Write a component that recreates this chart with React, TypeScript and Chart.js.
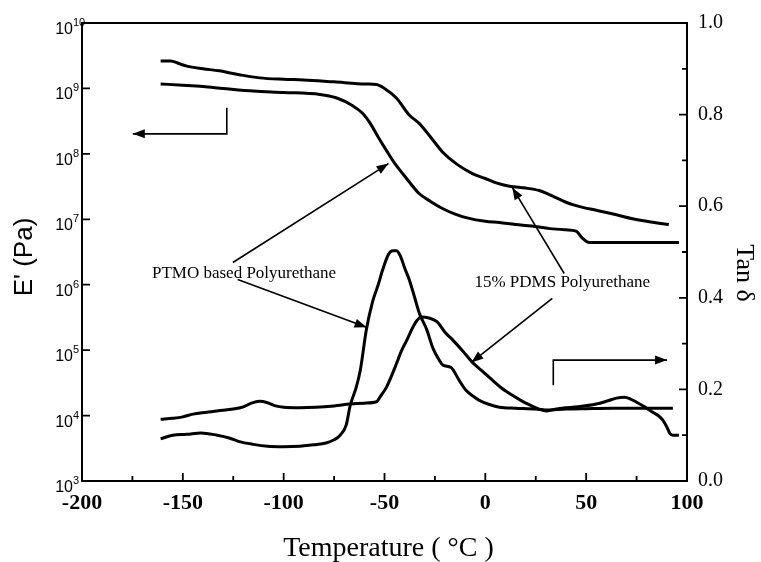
import React, { useEffect, useRef } from 'react';
import { Chart, registerables } from 'chart.js';

Chart.register(...registerables);

// ---- Data ----
// PTMO based polyurethane, storage modulus E' (Pa)
const ptmoE_T = [-161, -150, -140, -130, -115, -100, -82, -74, -66, -61, -57, -53, -49, -45, -41, -37, -33, -27, -21, -15, -9, 0, 7, 15, 23, 32, 40, 45, 48, 51.5, 60, 75, 96];
const ptmoE_V = [1.17e9, 1.12e9, 1.07e9, 1.0e9, 9.1e8, 8.7e8, 8.1e8, 7.2e8, 5.5e8, 4.2e8, 2.9e8, 1.78e8, 1.12e8, 7.2e7, 5.0e7, 3.5e7, 2.5e7, 1.86e7, 1.45e7, 1.2e7, 1.05e7, 9.3e6, 8.9e6, 8.3e6, 7.9e6, 7.2e6, 6.9e6, 6.6e6, 5.2e6, 4.4e6, 4.4e6, 4.4e6, 4.4e6];

// 15% PDMS polyurethane, storage modulus E' (Pa)
const pdmsE_T = [-161, -156, -152, -148, -140, -132, -122, -112, -100, -90, -75, -59, -54, -50, -44, -38, -32.7, -27, -21, -14, -6.4, 0, 5.4, 12, 20, 26.7, 31, 35, 40, 45, 56, 65, 73, 82, 91];
const pdmsE_V = [2.63e9, 2.63e9, 2.4e9, 2.19e9, 2.0e9, 1.86e9, 1.62e9, 1.45e9, 1.38e9, 1.35e9, 1.26e9, 1.17e9, 1.15e9, 1.0e9, 7.1e8, 4.0e8, 2.9e8, 1.78e8, 1.05e8, 6.9e7, 5.0e7, 4.2e7, 3.6e7, 3.2e7, 3.0e7, 2.75e7, 2.45e7, 2.14e7, 1.82e7, 1.62e7, 1.35e7, 1.17e7, 1.02e7, 9.1e6, 8.3e6];

// PTMO based polyurethane, tan delta
const ptmoTan_T = [-161, -155, -148, -141, -133, -127, -122, -115, -108, -100, -92, -85, -79, -75, -72, -69, -67, -64, -62, -59, -56, -53, -51, -48, -46, -44, -42, -40, -37.6, -35, -32.7, -29, -26, -23, -21, -17, -13, -9.6, -6, -3, 2, 7, 15, 25, 30, 40, 50, 63, 80, 93];
const ptmoTan_V = [0.092, 0.1, 0.102, 0.105, 0.1, 0.094, 0.086, 0.08, 0.076, 0.075, 0.076, 0.079, 0.083, 0.09, 0.1, 0.122, 0.165, 0.205, 0.242, 0.33, 0.39, 0.43, 0.46, 0.495, 0.503, 0.503, 0.49, 0.465, 0.438, 0.4, 0.366, 0.33, 0.29, 0.265, 0.253, 0.248, 0.22, 0.198, 0.185, 0.176, 0.167, 0.161, 0.159, 0.157, 0.155, 0.157, 0.158, 0.159, 0.159, 0.159];

// 15% PDMS polyurethane, tan delta
const pdmsTan_T = [-161, -155, -150, -145, -138, -133, -125, -120, -116, -112, -108, -104, -100, -92, -84, -75, -67, -60, -54, -52, -49, -46, -44, -41.5, -39, -36, -34, -31.7, -28, -24, -20, -16, -11, -6.4, -1.5, 3.5, 8, 13.4, 18, 22, 26, 30, 34, 38, 46, 55, 60, 65, 69, 72, 75, 79, 83, 86, 88, 90, 91.5, 93, 96];
const pdmsTan_V = [0.135, 0.137, 0.14, 0.146, 0.15, 0.153, 0.157, 0.162, 0.17, 0.174, 0.171, 0.164, 0.161, 0.16, 0.161, 0.164, 0.168, 0.17, 0.173, 0.185, 0.205, 0.235, 0.257, 0.285, 0.307, 0.335, 0.35, 0.358, 0.356, 0.348, 0.325, 0.307, 0.283, 0.259, 0.24, 0.22, 0.203, 0.187, 0.175, 0.166, 0.158, 0.153, 0.156, 0.159, 0.162, 0.168, 0.174, 0.181, 0.183, 0.179, 0.172, 0.162, 0.15, 0.142, 0.133, 0.118, 0.104, 0.1, 0.1];

// Axis ticks
const xMajorTicks = [-200, -150, -100, -50, 0, 50, 100];
const xMinorTicks = [-175, -125, -75, -25, 25, 75];
const eDecades = [1e3, 1e4, 1e5, 1e6, 1e7, 1e8, 1e9, 1e10];
const tanMajorTicks = [0, 0.2, 0.4, 0.6, 0.8, 1.0];
const tanMinorTicks = [0.1, 0.3, 0.5, 0.7, 0.9];

// Annotation texts (anchored in T / tan delta units)
const labelTexts = ['PTMO based Polyurethane', '15% PDMS Polyurethane'];
const labelT = [-165.3, -5.4];
const labelTan = [0.453, 0.4335];

// Straight annotation arrows [fromT, fromTan, toT, toTan]
const pointerArrows = [
  [-125.2, 0.477, -48, 0.693],
  [-122.8, 0.44, -58.9, 0.3355],
  [39.1, 0.453, 13.4, 0.6405],
  [33.2, 0.399, -6.9, 0.259],
];
// Elbow arrows pointing to axes: [T1, tan1, Tcorner, tanCorner, Ttip, tanTip]
const axisArrows = [
  [-128.2, 0.815, -128.2, 0.758, -174.8, 0.758],
  [33.7, 0.209, 33.7, 0.264, 90.1, 0.264],
];

const SERIF = '"Liberation Serif", "Times New Roman", serif';
const SANS = '"Liberation Sans", Arial, sans-serif';

function pts(T: number[], V: number[]) {
  return T.map((t, i) => ({ x: t, y: V[i] }));
}

function drawArrowHead(ctx: CanvasRenderingContext2D, x1: number, y1: number, x2: number, y2: number) {
  const ang = Math.atan2(y2 - y1, x2 - x1);
  const len = 12;
  const hw = 4.5;
  ctx.beginPath();
  ctx.moveTo(x2, y2);
  ctx.lineTo(x2 - len * Math.cos(ang) + hw * Math.sin(ang), y2 - len * Math.sin(ang) - hw * Math.cos(ang));
  ctx.lineTo(x2 - len * Math.cos(ang) - hw * Math.sin(ang), y2 - len * Math.sin(ang) + hw * Math.cos(ang));
  ctx.closePath();
  ctx.fill();
}

const decorPlugin = {
  id: 'decor',
  afterDraw(chart: any) {
    const { ctx, chartArea } = chart;
    const { left, right, top, bottom } = chartArea;
    const x = chart.scales.x;
    const yE = chart.scales.yE;
    const yT = chart.scales.yT;
    ctx.save();
    ctx.strokeStyle = '#000';
    ctx.fillStyle = '#000';
    // frame
    ctx.lineWidth = 2;
    ctx.beginPath();
    ctx.moveTo(left, top);
    ctx.lineTo(right, top);
    ctx.lineTo(right, bottom);
    ctx.lineTo(left, bottom);
    ctx.closePath();
    ctx.stroke();
    // inward ticks
    ctx.lineWidth = 1.8;
    ctx.beginPath();
    xMajorTicks.forEach((v) => {
      const p = x.getPixelForValue(v);
      ctx.moveTo(p, bottom);
      ctx.lineTo(p, bottom - 8);
    });
    xMinorTicks.forEach((v) => {
      const p = x.getPixelForValue(v);
      ctx.moveTo(p, bottom);
      ctx.lineTo(p, bottom - 5);
    });
    eDecades.forEach((v) => {
      const p = yE.getPixelForValue(v);
      ctx.moveTo(left, p);
      ctx.lineTo(left + 8, p);
    });
    tanMajorTicks.forEach((v) => {
      const p = yT.getPixelForValue(v);
      ctx.moveTo(right, p);
      ctx.lineTo(right - 8, p);
    });
    tanMinorTicks.forEach((v) => {
      const p = yT.getPixelForValue(v);
      ctx.moveTo(right, p);
      ctx.lineTo(right - 5, p);
    });
    ctx.stroke();

    // left log labels: 10 with superscript exponent
    eDecades.forEach((v) => {
      const p = yE.getPixelForValue(v);
      const exp = Math.round(Math.log10(v));
      ctx.font = '16px ' + SANS;
      ctx.textAlign = 'right';
      ctx.textBaseline = 'alphabetic';
      ctx.fillText('10', left - 9, p + 11);
      ctx.font = '11px ' + SANS;
      ctx.textAlign = 'left';
      ctx.fillText(String(exp), left - 9, p + 3);
    });

    // axis titles
    const cy = (top + bottom) / 2;
    ctx.textAlign = 'center';
    ctx.textBaseline = 'middle';
    ctx.font = '26px ' + SANS;
    ctx.save();
    ctx.translate(25, cy + 5);
    ctx.rotate(-Math.PI / 2);
    ctx.fillText("E' (Pa)", 0, 0);
    ctx.restore();

    ctx.font = '26px ' + SERIF;
    ctx.save();
    ctx.translate(right + 57, cy + 21);
    ctx.rotate(Math.PI / 2);
    ctx.fillText('Tan \u03b4', 0, 0);
    ctx.restore();

    ctx.font = '28px ' + SERIF;
    ctx.fillText('Temperature ( \u00b0C )', (left + right) / 2 + 4, bottom + 68);

    // annotation labels
    ctx.font = '17px ' + SERIF;
    ctx.textAlign = 'left';
    ctx.textBaseline = 'middle';
    labelTexts.forEach((t, i) => {
      ctx.fillText(t, x.getPixelForValue(labelT[i]), yT.getPixelForValue(labelTan[i]));
    });

    // pointer arrows
    ctx.lineWidth = 1.6;
    pointerArrows.forEach((a) => {
      const x1 = x.getPixelForValue(a[0]);
      const y1 = yT.getPixelForValue(a[1]);
      const x2 = x.getPixelForValue(a[2]);
      const y2 = yT.getPixelForValue(a[3]);
      ctx.beginPath();
      ctx.moveTo(x1, y1);
      ctx.lineTo(x2, y2);
      ctx.stroke();
      drawArrowHead(ctx, x1, y1, x2, y2);
    });
    axisArrows.forEach((a) => {
      const x1 = x.getPixelForValue(a[0]);
      const y1 = yT.getPixelForValue(a[1]);
      const xc = x.getPixelForValue(a[2]);
      const yc = yT.getPixelForValue(a[3]);
      const x2 = x.getPixelForValue(a[4]);
      const y2 = yT.getPixelForValue(a[5]);
      ctx.beginPath();
      ctx.moveTo(x1, y1);
      ctx.lineTo(xc, yc);
      ctx.lineTo(x2, y2);
      ctx.stroke();
      drawArrowHead(ctx, xc, yc, x2, y2);
    });
    ctx.restore();
  },
};

export default function App() {
  const canvasRef = useRef<HTMLCanvasElement | null>(null);

  useEffect(() => {
    document.body.style.margin = '0';
    const canvas = canvasRef.current;
    if (!canvas) return;
    const lineStyle = {
      borderColor: '#000',
      borderWidth: 3,
      pointRadius: 0,
      fill: false,
      cubicInterpolationMode: 'monotone' as const,
    };
    const chart = new Chart(canvas, {
      type: 'line',
      data: {
        datasets: [
          { label: "PTMO E'", data: pts(ptmoE_T, ptmoE_V), yAxisID: 'yE', ...lineStyle },
          { label: "15% PDMS E'", data: pts(pdmsE_T, pdmsE_V), yAxisID: 'yE', ...lineStyle },
          { label: 'PTMO tan d', data: pts(ptmoTan_T, ptmoTan_V), yAxisID: 'yT', ...lineStyle },
          { label: '15% PDMS tan d', data: pts(pdmsTan_T, pdmsTan_V), yAxisID: 'yT', ...lineStyle },
        ],
      },
      options: {
        responsive: false,
        animation: false,
        devicePixelRatio: 1,
        layout: { padding: { top: 22, left: 0, right: 0, bottom: 0 } },
        plugins: { legend: { display: false }, tooltip: { enabled: false }, title: { display: false } },
        scales: {
          x: {
            type: 'linear',
            position: 'bottom',
            min: -200,
            max: 100,
            grid: { display: false, drawTicks: false },
            border: { display: false },
            afterBuildTicks: (s: any) => {
              s.ticks = xMajorTicks.map((v) => ({ value: v }));
            },
            ticks: {
              color: '#000',
              font: { family: SERIF, size: 22, weight: 'bold' },
              padding: 9,
              maxRotation: 0,
              autoSkip: false,
            },
            afterFit: (s: any) => {
              s.height = 81;
            },
          },
          yE: {
            type: 'logarithmic',
            position: 'left',
            min: 1e3,
            max: 1e10,
            grid: { display: false, drawTicks: false },
            border: { display: false },
            afterBuildTicks: (s: any) => {
              s.ticks = eDecades.map((v) => ({ value: v }));
            },
            ticks: { display: false },
            afterFit: (s: any) => {
              s.width = 82;
            },
          },
          yT: {
            type: 'linear',
            position: 'right',
            min: 0,
            max: 1,
            grid: { display: false, drawTicks: false },
            border: { display: false },
            afterBuildTicks: (s: any) => {
              s.ticks = tanMajorTicks.map((v) => ({ value: v }));
            },
            ticks: {
              color: '#000',
              font: { family: SERIF, size: 20 },
              padding: 11,
              callback: (v: any) => Number(v).toFixed(1),
            },
            afterFit: (s: any) => {
              s.width = 74;
            },
          },
        },
      },
      plugins: [decorPlugin],
    });
    return () => chart.destroy();
  }, []);

  return (
    <div style={{ position: 'absolute', left: 0, top: 0, width: 761, height: 562, background: '#fff' }}>
      <canvas ref={canvasRef} width={761} height={562} style={{ display: 'block' }} />
    </div>
  );
}
